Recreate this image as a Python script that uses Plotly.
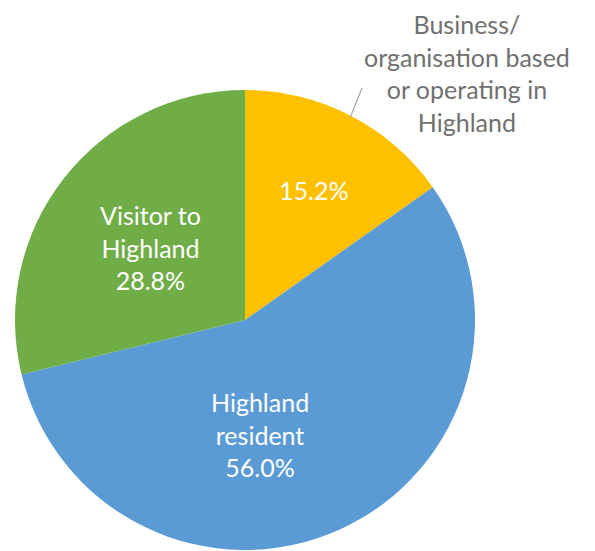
import plotly.graph_objects as go

# Respondent type breakdown
categories = ["Business/<br>organisation based<br>or operating in<br>Highland",
              "Highland<br>resident",
              "Visitor to<br>Highland"]
shares = [15.2, 56.0, 28.8]
colors = ["#FFC000", "#5B9BD5", "#70AD47"]

W, H = 595, 551
cx, cy, r = 245, 320, 230  # pie centre / radius in pixels

fig = go.Figure(go.Pie(
    labels=[c.replace("<br>", " ") for c in categories],
    values=shares,
    sort=False,
    direction="clockwise",
    rotation=0,
    marker=dict(colors=colors, line=dict(width=0)),
    textinfo="none",
    hoverinfo="label+percent",
    showlegend=False,
    domain=dict(x=[(cx - r) / W, (cx + r) / W], y=[(H - cy - r) / H, (H - cy + r) / H]),
))

font = "Lato, Calibri, Carlito, sans-serif"
fsize = 25


def px_ann(x, y, text, color):
    return dict(x=x / W, y=1 - y / H, xref="paper", yref="paper", text=text,
                showarrow=False, font=dict(family=font, size=fsize, color=color),
                align="center", xanchor="center", yanchor="middle")


annotations = [
    px_ann(313, 190, f"{shares[0]:.1f}%", "white"),
    px_ann(260, 434, f"{categories[1]}<br>{shares[1]:.1f}%", "white"),
    px_ann(150, 247, f"{categories[2]}<br>{shares[2]:.1f}%", "white"),
    px_ann(467, 73, categories[0], "#707070"),
]

# leader line from the yellow slice to its outside label
fig.add_shape(type="line", xref="paper", yref="paper",
              x0=350 / W, y0=1 - 118 / H, x1=362 / W, y1=1 - 88 / H,
              line=dict(color="#A6A6A6", width=1.2))

fig.update_layout(
    width=W, height=H,
    margin=dict(l=0, r=0, t=0, b=0),
    paper_bgcolor="white", plot_bgcolor="white",
    annotations=annotations,
)

fig.write_html("out.html")
